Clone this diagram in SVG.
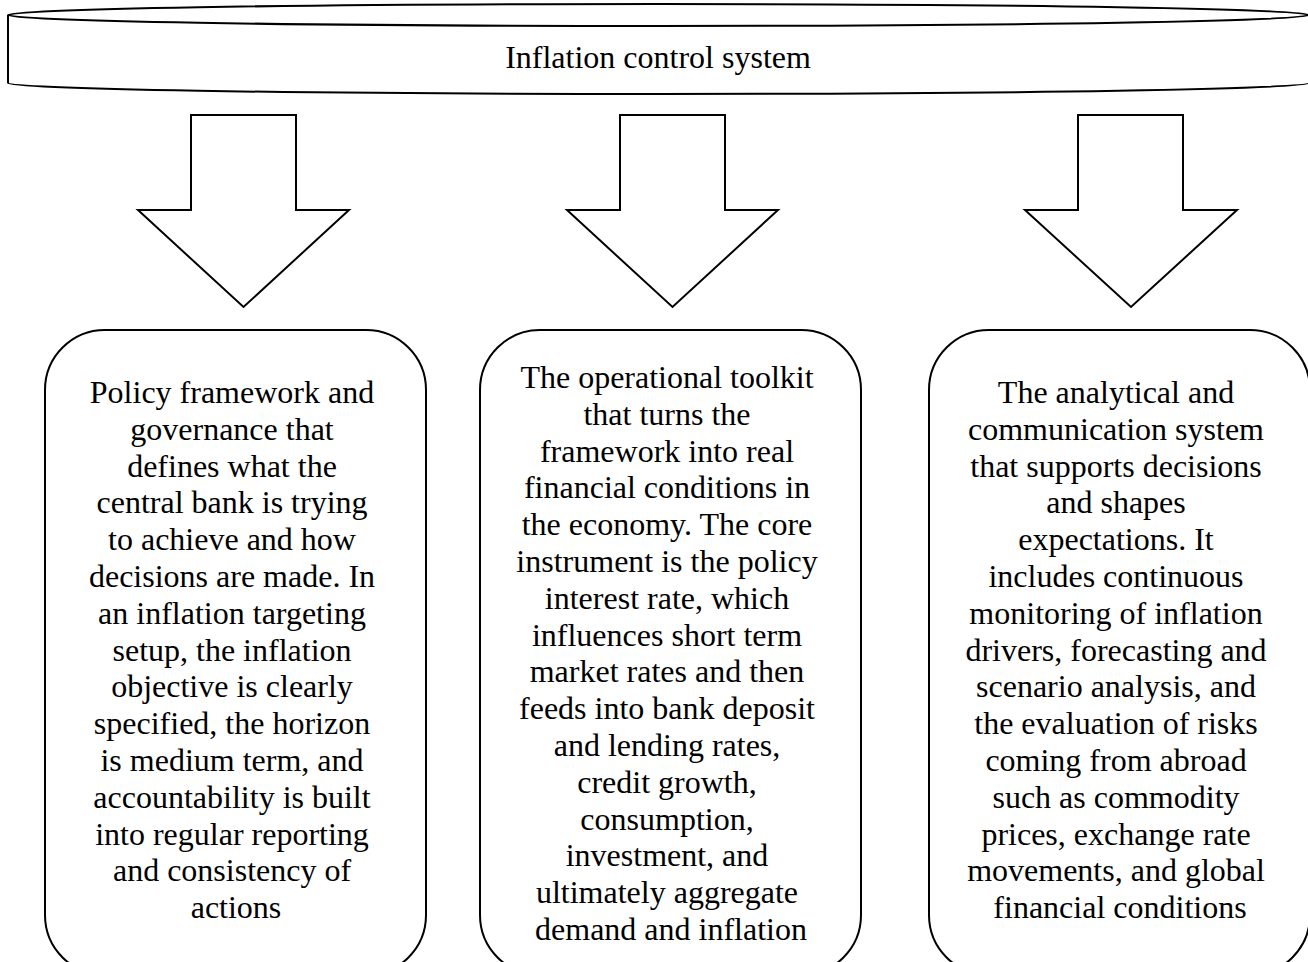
<svg xmlns="http://www.w3.org/2000/svg" width="1308" height="962" viewBox="0 0 1308 962">
  <style>
    .shape { fill: #ffffff; stroke: #000000; stroke-width: 2; stroke-linejoin: miter; }
    .label { font-family: "Liberation Serif", "Times New Roman", serif; font-size: 32px; fill: #000000; text-anchor: middle; }
  </style>
  <rect x="0" y="0" width="1308" height="962" fill="#ffffff"/>

  <!-- header: flat horizontal can -->
  <g id="header">
    <path class="shape" d="M8,15 L8,83 A650.5,11 0 0 0 1309,83 L1309,15"/>
    <ellipse class="shape" cx="658.5" cy="15" rx="650.5" ry="11"/>
    <text class="label" x="658" y="68">Inflation control system</text>
  </g>

  <!-- block arrows pointing down -->
  <g id="connectors">
    <polygon class="shape" points="191,115 296,115 296,210 349,210 243.5,307 138,210 191,210"/>
    <polygon class="shape" points="620,115 725,115 725,210 778,210 672.5,307 567,210 620,210"/>
    <polygon class="shape" points="1078,115 1183,115 1183,210 1237,210 1131,307 1025,210 1078,210"/>
  </g>

  <g id="node-framework">
    <rect class="shape" x="45" y="330" width="381" height="645" rx="60" ry="60"/>
    <text class="label" x="236">
      <tspan x="236" y="403">Policy framework and</tspan>
      <tspan x="236" dy="36.8">governance that</tspan>
      <tspan x="236" dy="36.8">defines what the</tspan>
      <tspan x="236" dy="36.8">central bank is trying</tspan>
      <tspan x="236" dy="36.8">to achieve and how</tspan>
      <tspan x="236" dy="36.8">decisions are made. In</tspan>
      <tspan x="236" dy="36.8">an inflation targeting</tspan>
      <tspan x="236" dy="36.8">setup, the inflation</tspan>
      <tspan x="236" dy="36.8">objective is clearly</tspan>
      <tspan x="236" dy="36.8">specified, the horizon</tspan>
      <tspan x="236" dy="36.8">is medium term, and</tspan>
      <tspan x="236" dy="36.8">accountability is built</tspan>
      <tspan x="236" dy="36.8">into regular reporting</tspan>
      <tspan x="236" dy="36.8">and consistency of</tspan>
      <tspan x="236" dy="36.8">actions</tspan>
    </text>
  </g>

  <g id="node-toolkit">
    <rect class="shape" x="480" y="330" width="381" height="645" rx="60" ry="60"/>
    <text class="label" x="671">
      <tspan x="671" y="388">The operational toolkit</tspan>
      <tspan x="671" dy="36.8">that turns the</tspan>
      <tspan x="671" dy="36.8">framework into real</tspan>
      <tspan x="671" dy="36.8">financial conditions in</tspan>
      <tspan x="671" dy="36.8">the economy. The core</tspan>
      <tspan x="671" dy="36.8">instrument is the policy</tspan>
      <tspan x="671" dy="36.8">interest rate, which</tspan>
      <tspan x="671" dy="36.8">influences short term</tspan>
      <tspan x="671" dy="36.8">market rates and then</tspan>
      <tspan x="671" dy="36.8">feeds into bank deposit</tspan>
      <tspan x="671" dy="36.8">and lending rates,</tspan>
      <tspan x="671" dy="36.8">credit growth,</tspan>
      <tspan x="671" dy="36.8">consumption,</tspan>
      <tspan x="671" dy="36.8">investment, and</tspan>
      <tspan x="671" dy="36.8">ultimately aggregate</tspan>
      <tspan x="671" dy="36.8">demand and inflation</tspan>
    </text>
  </g>

  <g id="node-analysis">
    <rect class="shape" x="929" y="330" width="381" height="645" rx="60" ry="60"/>
    <text class="label" x="1120">
      <tspan x="1120" y="403">The analytical and</tspan>
      <tspan x="1120" dy="36.8">communication system</tspan>
      <tspan x="1120" dy="36.8">that supports decisions</tspan>
      <tspan x="1120" dy="36.8">and shapes</tspan>
      <tspan x="1120" dy="36.8">expectations. It</tspan>
      <tspan x="1120" dy="36.8">includes continuous</tspan>
      <tspan x="1120" dy="36.8">monitoring of inflation</tspan>
      <tspan x="1120" dy="36.8">drivers, forecasting and</tspan>
      <tspan x="1120" dy="36.8">scenario analysis, and</tspan>
      <tspan x="1120" dy="36.8">the evaluation of risks</tspan>
      <tspan x="1120" dy="36.8">coming from abroad</tspan>
      <tspan x="1120" dy="36.8">such as commodity</tspan>
      <tspan x="1120" dy="36.8">prices, exchange rate</tspan>
      <tspan x="1120" dy="36.8">movements, and global</tspan>
      <tspan x="1120" dy="36.8">financial conditions</tspan>
    </text>
  </g>
</svg>
